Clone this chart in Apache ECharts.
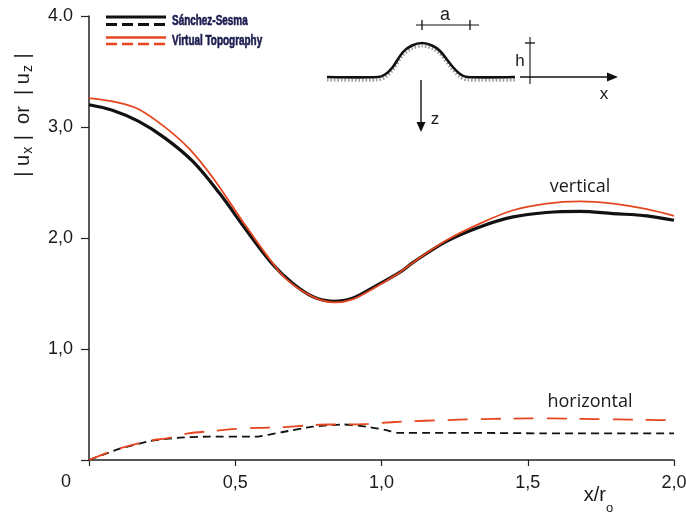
<!DOCTYPE html>
<html><head><meta charset="utf-8">
<script src="https://cdn.jsdelivr.net/npm/echarts@6/dist/echarts.min.js"></script>
<style>html,body{margin:0;padding:0;background:#fff}#c{width:686px;height:514px}</style>
</head><body><div id="c"></div>
<script>
// x/r0 positions with |u| amplitudes
const vertSanchez = [[0,3.20],[0.08,3.15],[0.17,3.05],[0.26,2.90],[0.355,2.69],[0.447,2.40],[0.538,2.07],[0.629,1.76],[0.697,1.59],[0.766,1.47],[0.834,1.43],[0.903,1.46],[0.975,1.56],[1.062,1.69],[1.108,1.78],[1.222,1.97],[1.336,2.10],[1.45,2.19],[1.564,2.23],[1.678,2.24],[1.792,2.22],[1.907,2.20],[2.0,2.16]];
const vertVirtual = [[0,3.26],[0.1,3.22],[0.17,3.16],[0.264,2.99],[0.344,2.80],[0.424,2.54],[0.515,2.19],[0.606,1.85],[0.675,1.63],[0.766,1.47],[0.84,1.42],[0.903,1.45],[0.975,1.55],[1.062,1.69],[1.108,1.78],[1.222,1.98],[1.336,2.13],[1.45,2.25],[1.564,2.31],[1.678,2.33],[1.792,2.31],[1.907,2.26],[2.0,2.20]];
const horzSanchez = [[0,0],[0.103,0.10],[0.209,0.17],[0.301,0.20],[0.407,0.21],[0.566,0.21],[0.658,0.25],[0.764,0.30],[0.87,0.32],[0.949,0.30],[1.015,0.27],[1.055,0.245],[1.293,0.245],[1.557,0.24],[2.0,0.24]];
const horzVirtual = [[0,0],[0.1,0.10],[0.2,0.17],[0.275,0.20],[0.34,0.24],[0.42,0.26],[0.5,0.28],[0.58,0.29],[0.66,0.296],[0.74,0.31],[0.82,0.32],[0.88,0.32],[0.956,0.326],[1.035,0.34],[1.108,0.35],[1.187,0.357],[1.266,0.363],[1.346,0.369],[1.418,0.372],[1.5,0.375],[1.58,0.375],[1.65,0.372],[1.73,0.369],[1.81,0.366],[1.874,0.363],[1.95,0.36],[2.0,0.357]];
const xTickLabels = ['', '0,5', '1,0', '1,5', '2,0'];
const yTickLabels = ['', '1,0', '2,0', '3,0', '4.0'];
const legendNames = ['Sánchez-Sesma', 'Virtual Topography'];

const RED = '#e6461f';
const BLK = '#111111';
const chart = echarts.init(document.getElementById('c'), null, {renderer: 'canvas'});
const labelFont = "'Liberation Sans', Arial, sans-serif";
const legFont = "'Liberation Sans', Arial, sans-serif";
const annFont = "'Open Sans', 'Noto Sans', sans-serif";

// hill profile for the inset sketch
const hill = [[327,77],[378,77],[385,74.5],[392,68],[403,52],[412,45.5],[422,43],[432,45.5],[440,51],[452,66],[460,74],[467,77],[515,77]];
const hillHatch = hill.map(p => [p[0], p[1] + 3]);

const option = {
  animation: false,
  backgroundColor: '#fff',
  grid: {left: 89, right: 12, top: 16, bottom: 54, containLabel: false, outerBoundsMode: 'none'},
  xAxis: {
    type: 'value', min: 0, max: 2, interval: 0.5,
    axisLine: {show: true, lineStyle: {color: '#222', width: 1.5}},
    axisTick: {show: true, length: 6, lineStyle: {color: '#222', width: 1.2}},
    splitLine: {show: false},
    axisLabel: {margin: 14, color: '#1a1a1a', fontSize: 18, fontFamily: labelFont,
      formatter: v => xTickLabels[Math.round(v / 0.5)]}
  },
  yAxis: {
    type: 'value', min: 0, max: 4, interval: 1,
    axisLine: {show: true, lineStyle: {color: '#222', width: 1.5}},
    axisTick: {show: true, length: 8, lineStyle: {color: '#222', width: 1.2}},
    splitLine: {show: false},
    axisLabel: {margin: 16, color: '#1a1a1a', fontSize: 18, fontFamily: labelFont,
      formatter: v => yTickLabels[Math.round(v)]}
  },
  series: [
    {name: legendNames[0] + ' vertical', type: 'line', data: vertSanchez, symbol: 'none', smooth: 0.35,
      lineStyle: {color: BLK, width: 3.2}, z: 2},
    {name: legendNames[0] + ' horizontal', type: 'line', data: horzSanchez, symbol: 'none', smooth: 0.2,
      lineStyle: {color: BLK, width: 1.8, type: [8, 5]}, z: 2},
    {name: legendNames[1] + ' vertical', type: 'line', data: vertVirtual, symbol: 'none', smooth: 0.35,
      lineStyle: {color: RED, width: 1.8}, z: 3},
    {name: legendNames[1] + ' horizontal', type: 'line', data: horzVirtual, symbol: 'none', smooth: 0.3,
      lineStyle: {color: RED, width: 1.8, type: [20, 13]}, z: 3}
  ],
  graphic: [
    // legend
    {type: 'line', shape: {x1: 106, y1: 17, x2: 166, y2: 17}, style: {stroke: BLK, lineWidth: 3}},
    {type: 'line', shape: {x1: 106, y1: 24.5, x2: 166, y2: 24.5}, style: {stroke: BLK, lineWidth: 3, lineDash: [11, 5]}},
    {type: 'line', shape: {x1: 106, y1: 37.5, x2: 166, y2: 37.5}, style: {stroke: RED, lineWidth: 2.5}},
    {type: 'line', shape: {x1: 106, y1: 44, x2: 166, y2: 44}, style: {stroke: RED, lineWidth: 2.5, lineDash: [11, 5]}},
    {type: 'text', x: 172, y: 21.5, scaleX: 0.71, style: {text: legendNames[0], fill: '#1c1c50', stroke: '#1c1c50', lineWidth: 0.6, font: "bold 14px " + legFont, verticalAlign: 'middle'}},
    {type: 'text', x: 172, y: 41, scaleX: 0.71, style: {text: legendNames[1], fill: '#1c1c50', stroke: '#1c1c50', lineWidth: 0.6, font: "bold 14px " + legFont, verticalAlign: 'middle'}},
    // axis names
    {type: 'text', x: 23, y: 115, rotation: Math.PI / 2,
      style: {text: '{m|| u}{s|x}{m| |  or  | u}{s|z}{m| |}', align: 'center', verticalAlign: 'middle',
        rich: {m: {fontSize: 20, fontFamily: labelFont, fill: '#1a1a1a'},
               s: {fontSize: 14, fontFamily: labelFont, fill: '#1a1a1a', padding: [10, 1, 0, 1]}}}},
    {type: 'text', x: 606, y: 495, style: {text: 'x/r', fill: '#1a1a1a', font: "20px " + labelFont, align: 'right', verticalAlign: 'middle'}},
    {type: 'text', x: 606, y: 508, style: {text: 'o', fill: '#1a1a1a', font: "13px " + labelFont, align: 'left', verticalAlign: 'middle'}},
    {type: 'text', x: 66, y: 482, style: {text: '0', fill: '#1a1a1a', font: "18px " + labelFont, align: 'center', verticalAlign: 'middle'}},
    // annotations
    {type: 'text', x: 580, y: 187, style: {text: 'vertical', fill: '#1a1a1a', font: "18px " + annFont, align: 'center', verticalAlign: 'middle'}},
    {type: 'text', x: 590, y: 402, style: {text: 'horizontal', fill: '#1a1a1a', font: "18px " + annFont, align: 'center', verticalAlign: 'middle'}},
    // inset sketch
    {type: 'polyline', shape: {points: hillHatch, smooth: 0.3}, style: {stroke: '#9a9a9a', lineWidth: 3, lineDash: [1.5, 2], fill: null}},
    {type: 'polyline', shape: {points: hill, smooth: 0.3}, style: {stroke: BLK, lineWidth: 2.6, fill: null}},
    {type: 'line', shape: {x1: 416, y1: 25, x2: 479, y2: 25}, style: {stroke: BLK, lineWidth: 1.1}},
    {type: 'line', shape: {x1: 422, y1: 20, x2: 422, y2: 30}, style: {stroke: BLK, lineWidth: 1.3}},
    {type: 'line', shape: {x1: 470, y1: 20, x2: 470, y2: 30}, style: {stroke: BLK, lineWidth: 1.3}},
    {type: 'text', x: 445, y: 15, style: {text: 'a', fill: '#1a1a1a', font: "18px " + labelFont, align: 'center', verticalAlign: 'middle'}},
    {type: 'line', shape: {x1: 530, y1: 37, x2: 530, y2: 84}, style: {stroke: BLK, lineWidth: 1.1}},
    {type: 'line', shape: {x1: 525, y1: 43, x2: 535, y2: 43}, style: {stroke: BLK, lineWidth: 1.3}},
    {type: 'text', x: 520, y: 61, style: {text: 'h', fill: '#1a1a1a', font: "17px " + labelFont, align: 'center', verticalAlign: 'middle'}},
    {type: 'line', shape: {x1: 520, y1: 77, x2: 610, y2: 77}, style: {stroke: BLK, lineWidth: 1.4}},
    {type: 'polygon', shape: {points: [[607, 72.5], [618, 77], [607, 81.5]]}, style: {fill: BLK}},
    {type: 'text', x: 604, y: 94, style: {text: 'x', fill: '#1a1a1a', font: "17px " + labelFont, align: 'center', verticalAlign: 'middle'}},
    {type: 'line', shape: {x1: 421, y1: 80, x2: 421, y2: 125}, style: {stroke: BLK, lineWidth: 1.4}},
    {type: 'polygon', shape: {points: [[416.5, 122], [421, 132], [425.5, 122]]}, style: {fill: BLK}},
    {type: 'text', x: 435, y: 119, style: {text: 'z', fill: '#1a1a1a', font: "17px " + labelFont, align: 'center', verticalAlign: 'middle'}}
  ]
};
chart.setOption(option);
</script>
</body></html>
